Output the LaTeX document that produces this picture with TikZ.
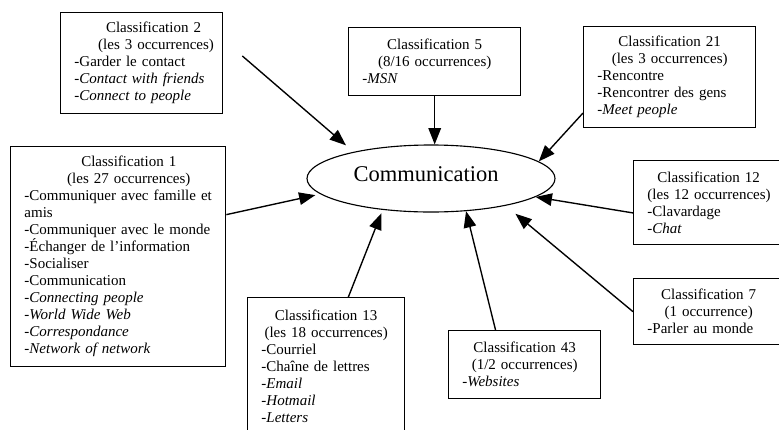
\documentclass[tikz,border=0pt]{standalone}
\usepackage{fontspec}
\setmainfont{Liberation Serif}
\usetikzlibrary{shapes.geometric,arrows.meta,calc}

\tikzset{
    classbox/.style={draw, rectangle, line width=1.1pt, anchor=north west, align=left,
        inner xsep=11pt, inner ysep=0pt, font=\fontsize{12}{13.6}\selectfont},
    arrow/.style={line width=1.1pt, -{Triangle[length=13pt,width=10pt]}}
}
\newcommand{\classhead}[3][0pt]{{\centering\hspace*{#1}\mbox{#2}\\\hspace*{#1}\mbox{#3}\par}}

\begin{document}
\begin{tikzpicture}[x=0.8pt,y=-0.8pt]
    \useasboundingbox (0,0) rectangle (779,429);

    % Central ellipse
    \node[draw, ellipse, line width=0.9pt, minimum width=198.4pt, minimum height=53.6pt,
        inner sep=0pt, text height=10pt, text depth=5.6pt,
        font=\fontsize{18}{21}\selectfont] (comm) at (431,178.5) {\hspace*{-8pt}Communication};

    % Classification boxes
    \node[classbox, text width=107.6pt, minimum height=80.8pt] (c2) at (60,12)
        {\classhead[19pt]{Classification 2}{(les 3 occurrences)}
        -Garder le contact\\
        \textit{-Contact with friends}\\
        \textit{-Connect to people}};

    \node[classbox, text width=115.6pt, minimum height=54.4pt] (c5) at (348,27)
        {\classhead{Classification 5}{(8/16 occurrences)}
        \textit{-MSN}};

    \node[classbox, text width=115.6pt, minimum height=80.8pt] (c21) at (583,26)
        {\classhead{Classification 21}{(les 3 occurrences)}
        -Rencontre\\
        -Rencontrer des gens\\
        \textit{-Meet people}};

    \node[classbox, text width=150pt, minimum height=176pt] (c1) at (10,146)
        {\classhead[17pt]{Classification 1}{(les 27 occurrences)}
        -Communiquer avec famille et\\
        amis\\
        -Communiquer avec le monde\\
        -Échanger de l’information\\
        -Socialiser\\
        -Communication\\
        \textit{-Connecting people}\\
        \textit{-World Wide Web}\\
        \textit{-Correspondance}\\
        \textit{-Network of network}};

    \node[classbox, text width=98pt, minimum height=67.2pt] (c12) at (633,160)
        {\classhead{Classification 12}{(les 12 occurrences)}
        -Clavardage\\
        \textit{-Chat}};

    \node[classbox, text width=98pt, minimum height=52.8pt] (c7) at (633,278)
        {\classhead{Classification 7}{(1 occurrence)}
        -Parler au monde};

    \node[classbox, text width=99.6pt, minimum height=54.4pt] (c43) at (448,330)
        {\classhead{Classification 43}{(1/2 occurrences)}
        \textit{-Websites}};

    \node[classbox, text width=103.6pt, minimum height=110.4pt] (c13) at (247,297)
        {\classhead{Classification 13}{(les 18 occurrences)}
        -Courriel\\
        -Chaîne de lettres\\
        \textit{-Email}\\
        \textit{-Hotmail}\\
        \textit{-Letters}};

    % Arrows towards the ellipse
    \draw[arrow, shorten <=20pt, shorten >=8pt] ($(c2.north east)!0.27!(c2.south east)$) -- (comm.161);
    \draw[arrow] (c5.south) -- (c5.south |- comm.north);
    \draw[arrow] ($(c21.north west)!0.85!(c21.south west)$) -- (comm.9);
    \draw[arrow, shorten >=4pt] ($(c1.north east)!0.31!(c1.south east)$) -- (comm.188);
    \draw[arrow] ($(c12.north west)!0.62!(c12.south west)$) -- (comm.350);
    \draw[arrow, shorten >=10pt] (c7.west) -- (comm.340);
    \draw[arrow] ($(c43.north west)!0.31!(c43.north east)$) -- (comm.317);
    \draw[arrow, shorten >=3pt] ($(c13.north west)!0.64!(c13.north east)$) -- (comm.213);
\end{tikzpicture}
\end{document}
